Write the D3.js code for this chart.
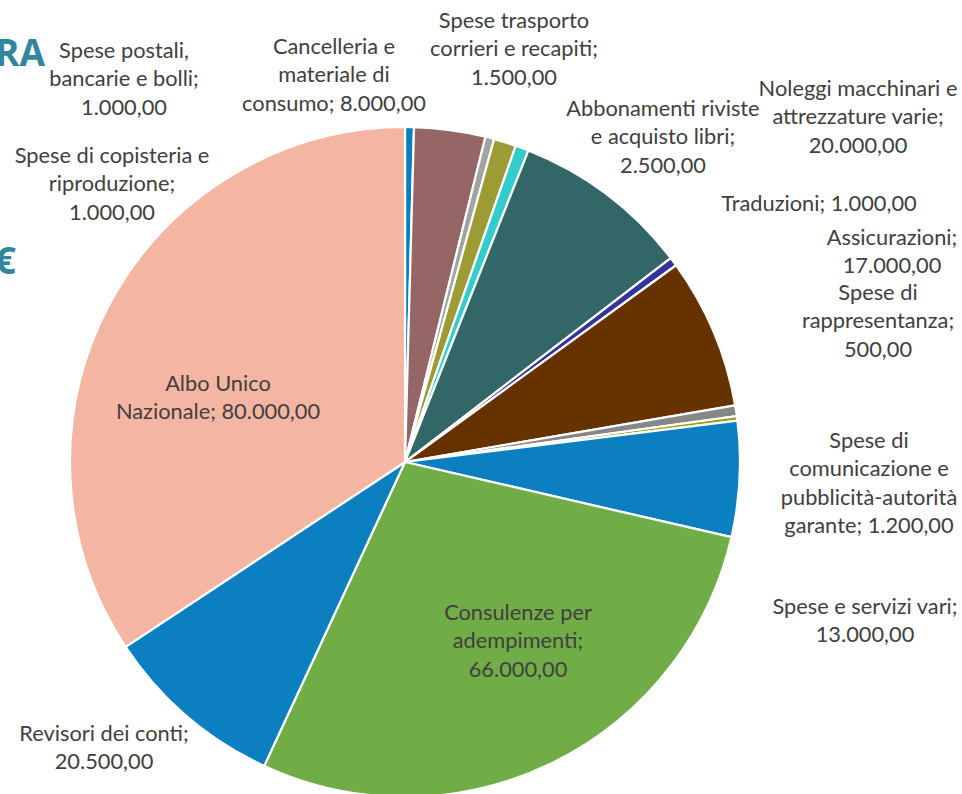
<!DOCTYPE html>
<html><head><meta charset="utf-8">
<script src="https://cdn.jsdelivr.net/npm/d3@7"></script>
<style>html,body{margin:0;padding:0;background:#fff;overflow:hidden}</style>
</head><body>
<svg id="c" width="962" height="794"></svg>
<script>
// ---- data ----
const categories = [
  "Spese postali, bancarie e bolli",
  "Cancelleria e materiale di consumo",
  "Spese di copisteria e riproduzione",
  "Abbonamenti riviste e acquisto libri",
  "Spese trasporto corrieri e recapiti",
  "Noleggi macchinari e attrezzature varie",
  "Traduzioni",
  "Assicurazioni",
  "Spese di comunicazione e pubblicità-autorità garante",
  "Spese di rappresentanza",
  "Spese e servizi vari",
  "Consulenze per adempimenti",
  "Revisori dei conti",
  "Albo Unico Nazionale"
];
const values = [1000, 8000, 1000, 2500, 1500, 20000, 1000, 17000, 1200, 500, 13000, 66000, 20500, 80000];
const colors = ["#0C7FC1", "#966565", "#A3A3A3", "#9C9B34", "#33CCCC", "#336666", "#333399", "#663300",
                "#878787", "#999900", "#0C7FC1", "#70AD47", "#0C7FC1", "#F4B6A2"];

// ---- layout (label placement, words per line) ----
const labelLayout = [
  {x:124, y:50,  breaks:[2,3,1]},
  {x:334, y:46,  breaks:[2,2,2]},
  {x:112, y:155, breaks:[4,1,1]},
  {x:663, y:108, breaks:[2,3,1]},
  {x:514, y:20,  breaks:[2,3,1]},
  {x:858, y:88,  breaks:[3,2,1]},
  {x:819, y:203, breaks:[2]},
  {x:892, y:237, breaks:[1,1]},
  {x:869, y:440, breaks:[2,2,1,2]},
  {x:878, y:292, breaks:[2,1,1]},
  {x:865, y:606, breaks:[4,1]},
  {x:518, y:612, breaks:[2,1,1]},
  {x:104, y:733, breaks:[3,1]},
  {x:218, y:383, breaks:[2,2]}
];

const svg = d3.select("#c");
const cx = 405, cy = 462, R = 335;

const fmt = d3.formatLocale({decimal:",", thousands:".", grouping:[3], currency:["€",""]}).format(",.2f");

const data = categories.map((c,i)=>({name:c, value:values[i], color:colors[i], lab:labelLayout[i]}));
const pie = d3.pie().value(d=>d.value).sort(null).startAngle(0).endAngle(2*Math.PI);
const arc = d3.arc().innerRadius(0).outerRadius(R);

const g = svg.append("g").attr("transform", `translate(${cx},${cy})`);
g.selectAll("path").data(pie(data)).join("path")
  .attr("d", arc)
  .attr("fill", d=>d.data.color)
  .attr("stroke", "#fff")
  .attr("stroke-width", 2.2)
  .attr("stroke-linejoin", "round");

// background slide fragments (cut at the left edge, as in the reference)
svg.append("text").attr("x", 45).attr("y", 66).attr("text-anchor","end")
  .attr("font-family","Open Sans, sans-serif").attr("font-weight","bold").attr("font-size",37)
  .attr("fill","#31859C").text("RA");
svg.append("text").attr("x", 16).attr("y", 274).attr("text-anchor","end")
  .attr("font-family","Open Sans, sans-serif").attr("font-weight","bold").attr("font-size",38)
  .attr("fill","#31859C").text("€");

// labels
const LH = 28.5;
const labels = svg.append("g").attr("font-family","Lato, sans-serif").attr("font-size",21.8).attr("fill","#404040").attr("text-anchor","middle");
data.forEach(d=>{
  const words = (d.name + "; " + fmt(d.value)).split(" ");
  const lines = [];
  let k = 0;
  d.lab.breaks.forEach(n=>{ lines.push(words.slice(k,k+n).join(" ")); k+=n; });
  const t = labels.append("text").attr("x", d.lab.x).attr("y", d.lab.y);
  lines.forEach((ln,i)=>{
    t.append("tspan").attr("x", d.lab.x).attr("y", d.lab.y + i*LH).attr("dy","0.35em").text(ln);
  });
});
</script>
</body></html>
